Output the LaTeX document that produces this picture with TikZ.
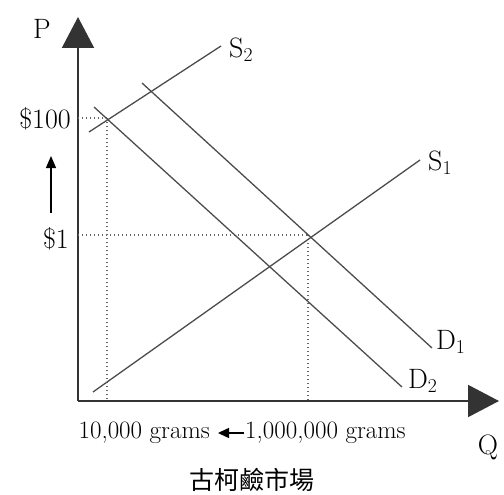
\documentclass[tikz,border=0pt]{standalone}
\usepackage{fontspec}
\newfontfamily\cjk{Noto Sans CJK TC}
\usetikzlibrary{arrows.meta}
\begin{document}
\begin{tikzpicture}[x=1pt,y=-1pt,
  axis/.style={line width=2pt,draw=black!80,-{Triangle[length=31pt,width=32pt]}},
  curve/.style={line width=1.3pt,draw=black!70},
  guide/.style={line width=1.1pt,draw=black!60,dash pattern=on 1pt off 3pt},
  lbl/.style={inner sep=0pt,font=\fontsize{28}{30}\selectfont},
  small/.style={inner sep=0pt,font=\fontsize{25}{27}\selectfont}]
\useasboundingbox (0,0) rectangle (504,495);
% axes
\coordinate (O) at (78,401);
\coordinate (Ptop) at (78,17);
\coordinate (Qend) at (499,401);
\draw[axis] (O) -- (Ptop);
\draw[axis] (O) -- (Qend);
\node[lbl] (P) at (42,29) {P};
\node[lbl] (Q) at (488,447) {Q};
% price labels
\node[lbl,anchor=east] (p100) at (71,119) {\$100};
\node[lbl,anchor=east] (p1) at (69,239) {\$1};
\coordinate (ua) at (51,213);
\coordinate (ub) at (51,156);
\draw[line width=1.3pt,-{Triangle[length=12pt,width=10pt]}] (ua) -- (ub);
% intersections
\coordinate (E2) at (107,118);
\coordinate (E1) at (308,235);
\coordinate (E2y) at (78,118);
\coordinate (E1y) at (78,235);
\coordinate (E2x) at (107,401);
\coordinate (E1x) at (308,401);
\draw[guide] (E2y) -- (E2);
\draw[guide] (E2) -- (E2x);
\draw[guide] (E1y) -- (E1);
\draw[guide] (E1) -- (E1x);
% supply
\coordinate (s2a) at (89,132);
\coordinate (s2b) at (221,46);
\coordinate (s1a) at (93,392);
\coordinate (s1b) at (420,160);
\draw[curve] (s2a) -- (s2b);
\draw[curve] (s1a) -- (s1b);
\node[lbl,anchor=west] (S2) at (229,50) {S\textsubscript{2}};
\node[lbl,anchor=west] (S1) at (428,163) {S\textsubscript{1}};
% demand
\coordinate (d2a) at (94,107);
\coordinate (d2b) at (402,387);
\coordinate (d1a) at (142,83);
\coordinate (d1b) at (432,348);
\draw[curve] (d2a) -- (d2b);
\draw[curve] (d1a) -- (d1b);
\node[lbl,anchor=west] (D1) at (436,342) {D\textsubscript{1}};
\node[lbl,anchor=west] (D2) at (408,381) {D\textsubscript{2}};
% quantity labels
\node[small,anchor=east] (q1) at (210,433) {10,000 grams};
\node[small,anchor=west] (q2) at (245,433) {1,000,000 grams};
\draw[line width=1.5pt,-{Triangle[length=11pt,width=10pt]}] ([xshift=-1pt]q2.west) -- ([xshift=8pt]q1.east);
% title
\node[inner sep=0pt,font=\cjk\fontsize{25}{27}\selectfont] (title) at (252,480) {古柯鹼市場};
\end{tikzpicture}
\end{document}
